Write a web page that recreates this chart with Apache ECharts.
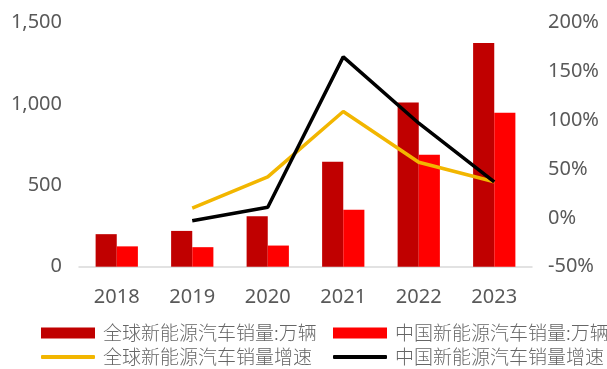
<!DOCTYPE html>
<html>
<head>
<meta charset="utf-8">
<script src="https://cdn.jsdelivr.net/npm/echarts@6/dist/echarts.min.js"></script>
<style>
  html, body { margin: 0; padding: 0; background: #fff; }
  #chart { width: 607px; height: 369px; }
</style>
</head>
<body>
<div id="chart"></div>
<script>
// Years on the category axis
const years = ['2018', '2019', '2020', '2021', '2022', '2023'];
// NEV sales, unit: 10k vehicles
const globalSales = [200, 220, 310, 645, 1010, 1375];
const chinaSales = [125, 120, 130, 350, 688, 947];
// Year-on-year growth, %
const globalGrowth = [null, 10, 42, 109, 57, 37];
const chinaGrowth = [null, -3, 11, 165, 97, 37];

const names = [
  '全球新能源汽车销量:万辆',
  '中国新能源汽车销量:万辆',
  '全球新能源汽车销量增速',
  '中国新能源汽车销量增速'
];
const colors = ['#C00000', '#FF0000', '#F2B600', '#000000'];

const labelColor = '#595959';
const cjkFont = '"Noto Sans CJK SC", sans-serif';

function legendAt(name, left, top, isLine) {
  return {
    data: [name],
    left: left,
    top: top,
    itemWidth: 54,
    itemHeight: isLine ? 4 : 11,
    icon: isLine ? 'roundRect' : 'rect',
    selectedMode: false,
    padding: 0,
    textStyle: {
      color: '#666666',
      fontFamily: cjkFont,
      fontSize: 19,
      fontWeight: 300,
      padding: [0, 0, 0, 3]
    }
  };
}

const chart = echarts.init(document.getElementById('chart'), null, { renderer: 'canvas' });

chart.setOption({
  animation: false,
  backgroundColor: '#ffffff',
  grid: { left: 79, right: 75, top: 22.7, bottom: 102.3, containLabel: false },
  legend: [
    legendAt(names[0], 41, 323.5, false),
    legendAt(names[1], 333, 323.5, false),
    legendAt(names[2], 41, 347.5, true),
    legendAt(names[3], 333, 347.5, true)
  ],
  xAxis: {
    type: 'category',
    data: years,
    axisLine: { show: true, lineStyle: { color: '#D9D9D9', width: 1.5 } },
    axisTick: { show: false },
    axisLabel: {
      color: labelColor,
      fontSize: 20,
      fontFamily: '"Noto Sans", sans-serif',
      margin: 21
    }
  },
  yAxis: [
    {
      type: 'value',
      min: 0,
      max: 1500,
      interval: 500,
      splitLine: { show: false },
      axisLine: { show: false },
      axisTick: { show: false },
      axisLabel: {
        color: labelColor,
        fontSize: 20,
        fontFamily: '"Noto Sans", sans-serif',
        margin: 17,
        formatter: v => v.toLocaleString('en-US')
      }
    },
    {
      type: 'value',
      min: -50,
      max: 200,
      interval: 50,
      splitLine: { show: false },
      axisLine: { show: false },
      axisTick: { show: false },
      axisLabel: {
        color: labelColor,
        fontSize: 20,
        fontFamily: '"Noto Sans", sans-serif',
        margin: 16,
        formatter: '{value}%'
      }
    }
  ],
  series: [
    {
      name: names[0],
      type: 'bar',
      data: globalSales,
      yAxisIndex: 0,
      barGap: '0%',
      barCategoryGap: '44%',
      itemStyle: { color: colors[0] }
    },
    {
      name: names[1],
      type: 'bar',
      data: chinaSales,
      yAxisIndex: 0,
      barGap: '0%',
      barCategoryGap: '44%',
      itemStyle: { color: colors[1] }
    },
    {
      name: names[2],
      type: 'line',
      data: globalGrowth,
      yAxisIndex: 1,
      symbol: 'none',
      lineStyle: { color: colors[2], width: 3.5 },
      itemStyle: { color: colors[2] }
    },
    {
      name: names[3],
      type: 'line',
      data: chinaGrowth,
      yAxisIndex: 1,
      symbol: 'none',
      lineStyle: { color: colors[3], width: 3.5 },
      itemStyle: { color: colors[3] }
    }
  ]
});
</script>
</body>
</html>
